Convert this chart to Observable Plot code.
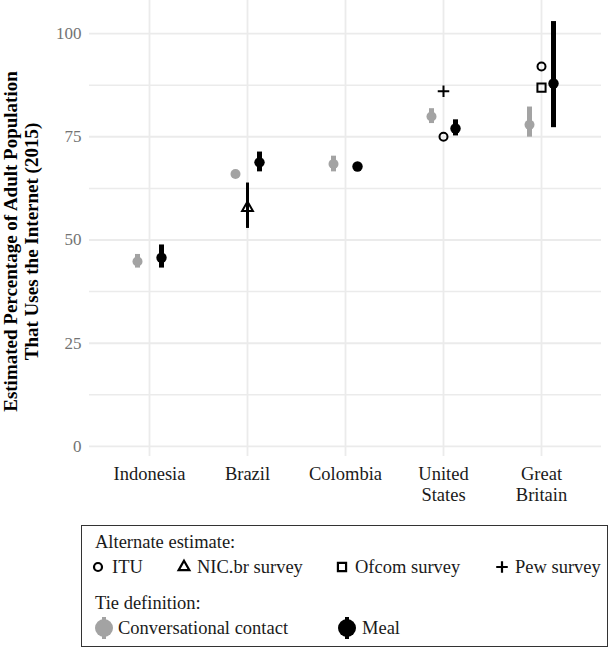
<!DOCTYPE html>
<html><head><meta charset="utf-8">
<script src="https://cdn.jsdelivr.net/npm/d3@7"></script>
<script src="https://cdn.jsdelivr.net/npm/@observablehq/plot@0.6"></script>
<style>
body{margin:0;background:#fff;font-family:"Liberation Serif",serif;}
#wrap{position:relative;width:611px;height:652px;overflow:hidden;}
#box{position:absolute;left:81px;top:525px;width:525px;height:120px;border:1px solid #333;}
.lt{position:absolute;font-size:18.5px;color:#1a1a1a;white-space:nowrap;height:20px;line-height:20px;}
.ls{position:absolute;}
</style></head><body>
<div id="wrap"><div id="chart"></div><div id="box"></div></div>
<script>
// ---- data ----
const countries = ["Indonesia", "Brazil", "Colombia", "United States", "Great Britain"];
const convEst = [44.8, 66.0, 68.4, 79.9, 77.9];
const convLo  = [43.2, 65.6, 66.5, 78.2, 74.9];
const convHi  = [46.5, 66.4, 70.3, 81.8, 82.2];
const mealEst = [45.7, 68.8, 67.8, 77.0, 87.9];
const mealLo  = [43.2, 66.5, 67.0, 75.2, 77.2];
const mealHi  = [48.8, 71.3, 68.6, 79.1, 102.9];
const altCountry = ["Brazil", "United States", "United States", "Great Britain", "Great Britain"];
const altSource  = ["NIC.br survey", "ITU", "Pew survey", "ITU", "Ofcom survey"];
const altValue   = [57.8, 75.0, 86.0, 92.0, 86.9];
const altLo      = [52.8, null, null, null, null];
const altHi      = [63.8, null, null, null, null];
const yTicks = [0, 25, 50, 75, 100];
const yMinor = [12.5, 37.5, 62.5, 87.5];
const sources = ["ITU", "NIC.br survey", "Ofcom survey", "Pew survey"];
const ties = ["Conversational contact", "Meal"];
const yTitle = "Estimated Percentage of Adult Population\nThat Uses the Internet (2015)";

// ---- tables ----
const conv = countries.map((c, i) => ({country: c, est: convEst[i], lo: convLo[i], hi: convHi[i]}));
const meal = countries.map((c, i) => ({country: c, est: mealEst[i], lo: mealLo[i], hi: mealHi[i]}));
const alt = altCountry.map((c, i) => ({country: c, source: altSource[i], v: altValue[i], lo: altLo[i], hi: altHi[i]}));

const GREY = "#a3a3a3", GRID = "#ebebeb";
const symOpts = {"ITU": ["circle", 4], "NIC.br survey": ["triangle", 4], "Ofcom survey": ["square", 4.6], "Pew survey": ["plus", 3.8]};

const chart = Plot.plot({
  width: 611, height: 515,
  marginLeft: 89, marginRight: 10, marginTop: 0, marginBottom: 59,
  style: {fontFamily: "Liberation Serif, serif", fontSize: "16px", background: "white", overflow: "visible"},
  x: {type: "point", domain: countries, padding: 0.6},
  y: {domain: [-2.43, 108]},
  marks: [
    Plot.ruleY(yMinor, {stroke: GRID, strokeWidth: 1.5}),
    Plot.ruleY(yTicks, {stroke: GRID, strokeWidth: 1.8}),
    Plot.ruleX(countries, {stroke: GRID, strokeWidth: 1.8}),
    Plot.axisY({ticks: yTicks, tickSize: 0, tickPadding: 8, fontSize: 17, color: "#737373", label: null}),
    Plot.axisX({tickSize: 0, tickPadding: 8, fontSize: 18.5, color: "#1a1a1a", lineHeight: 1.15, label: null,
      tickFormat: d => d.replace(" ", "\n")}),
    Plot.text([yTitle], {frameAnchor: "left", text: d => d, rotate: -90, dx: -69, dy: 13,
      textAnchor: "middle", lineAnchor: "middle",
      fontWeight: "bold", fontSize: 19, lineHeight: 1.1, fill: "#000"}),
    // conversational contact
    Plot.ruleX(conv, {x: "country", y1: "lo", y2: "hi", dx: -12, stroke: GREY, strokeWidth: 5}),
    Plot.dot(conv, {x: "country", y: "est", dx: -12, r: 5, fill: GREY, stroke: "none"}),
    // meal
    Plot.ruleX(meal, {x: "country", y1: "lo", y2: "hi", dx: 12, stroke: "#000", strokeWidth: 5}),
    Plot.dot(meal, {x: "country", y: "est", dx: 12, r: 5.2, fill: "#000", stroke: "none"}),
    // alternates
    Plot.ruleX(alt.filter(d => d.lo != null), {x: "country", y1: "lo", y2: "hi", stroke: "#000", strokeWidth: 3}),
    ...sources.map(s => Plot.dot(alt.filter(d => d.source === s), {
      x: "country", y: "v", symbol: symOpts[s][0], r: symOpts[s][1],
      stroke: "#000", strokeWidth: 2, fill: "none"
    }))
  ]
});
document.getElementById("chart").appendChild(chart);

// ---- legend ----
const wrap = document.getElementById("wrap");
function text(t, x, cy) {
  const el = document.createElement("div");
  el.className = "lt"; el.textContent = t;
  el.style.left = x + "px"; el.style.top = (cy - 10) + "px";
  wrap.appendChild(el);
}
function sym(cx, cy, draw) {
  const s = d3.create("svg").attr("class", "ls").attr("width", 30).attr("height", 30)
    .style("left", (cx - 15) + "px").style("top", (cy - 15) + "px");
  draw(s.append("g").attr("transform", "translate(15,15)"));
  wrap.appendChild(s.node());
}
const d3sym = {circle: d3.symbolCircle, triangle: d3.symbolTriangle, square: d3.symbolSquare, plus: d3.symbolPlus};
text("Alternate estimate:", 95, 542);
const row1 = [[98, 112], [184, 197], [342, 355], [502, 515]];
sources.forEach((s, i) => {
  const [name, r] = symOpts[s];
  sym(row1[i][0], 567, g => g.append("path").attr("d", d3.symbol(d3sym[name], Math.PI * r * r)())
    .attr("fill", "none").attr("stroke", "#000").attr("stroke-width", 2.2));
  text(s, row1[i][1], 567);
});
text("Tie definition:", 95, 603);
const row2 = [[104, 118, GREY], [347, 362, "#000"]];
ties.forEach((t, i) => {
  const [cx, tx, col] = row2[i];
  sym(cx, 628, g => {
    g.append("line").attr("y1", -11).attr("y2", 11).attr("stroke", col).attr("stroke-width", 4);
    g.append("circle").attr("r", 9).attr("fill", col);
  });
  text(t, tx, 628);
});
</script>
</body></html>
